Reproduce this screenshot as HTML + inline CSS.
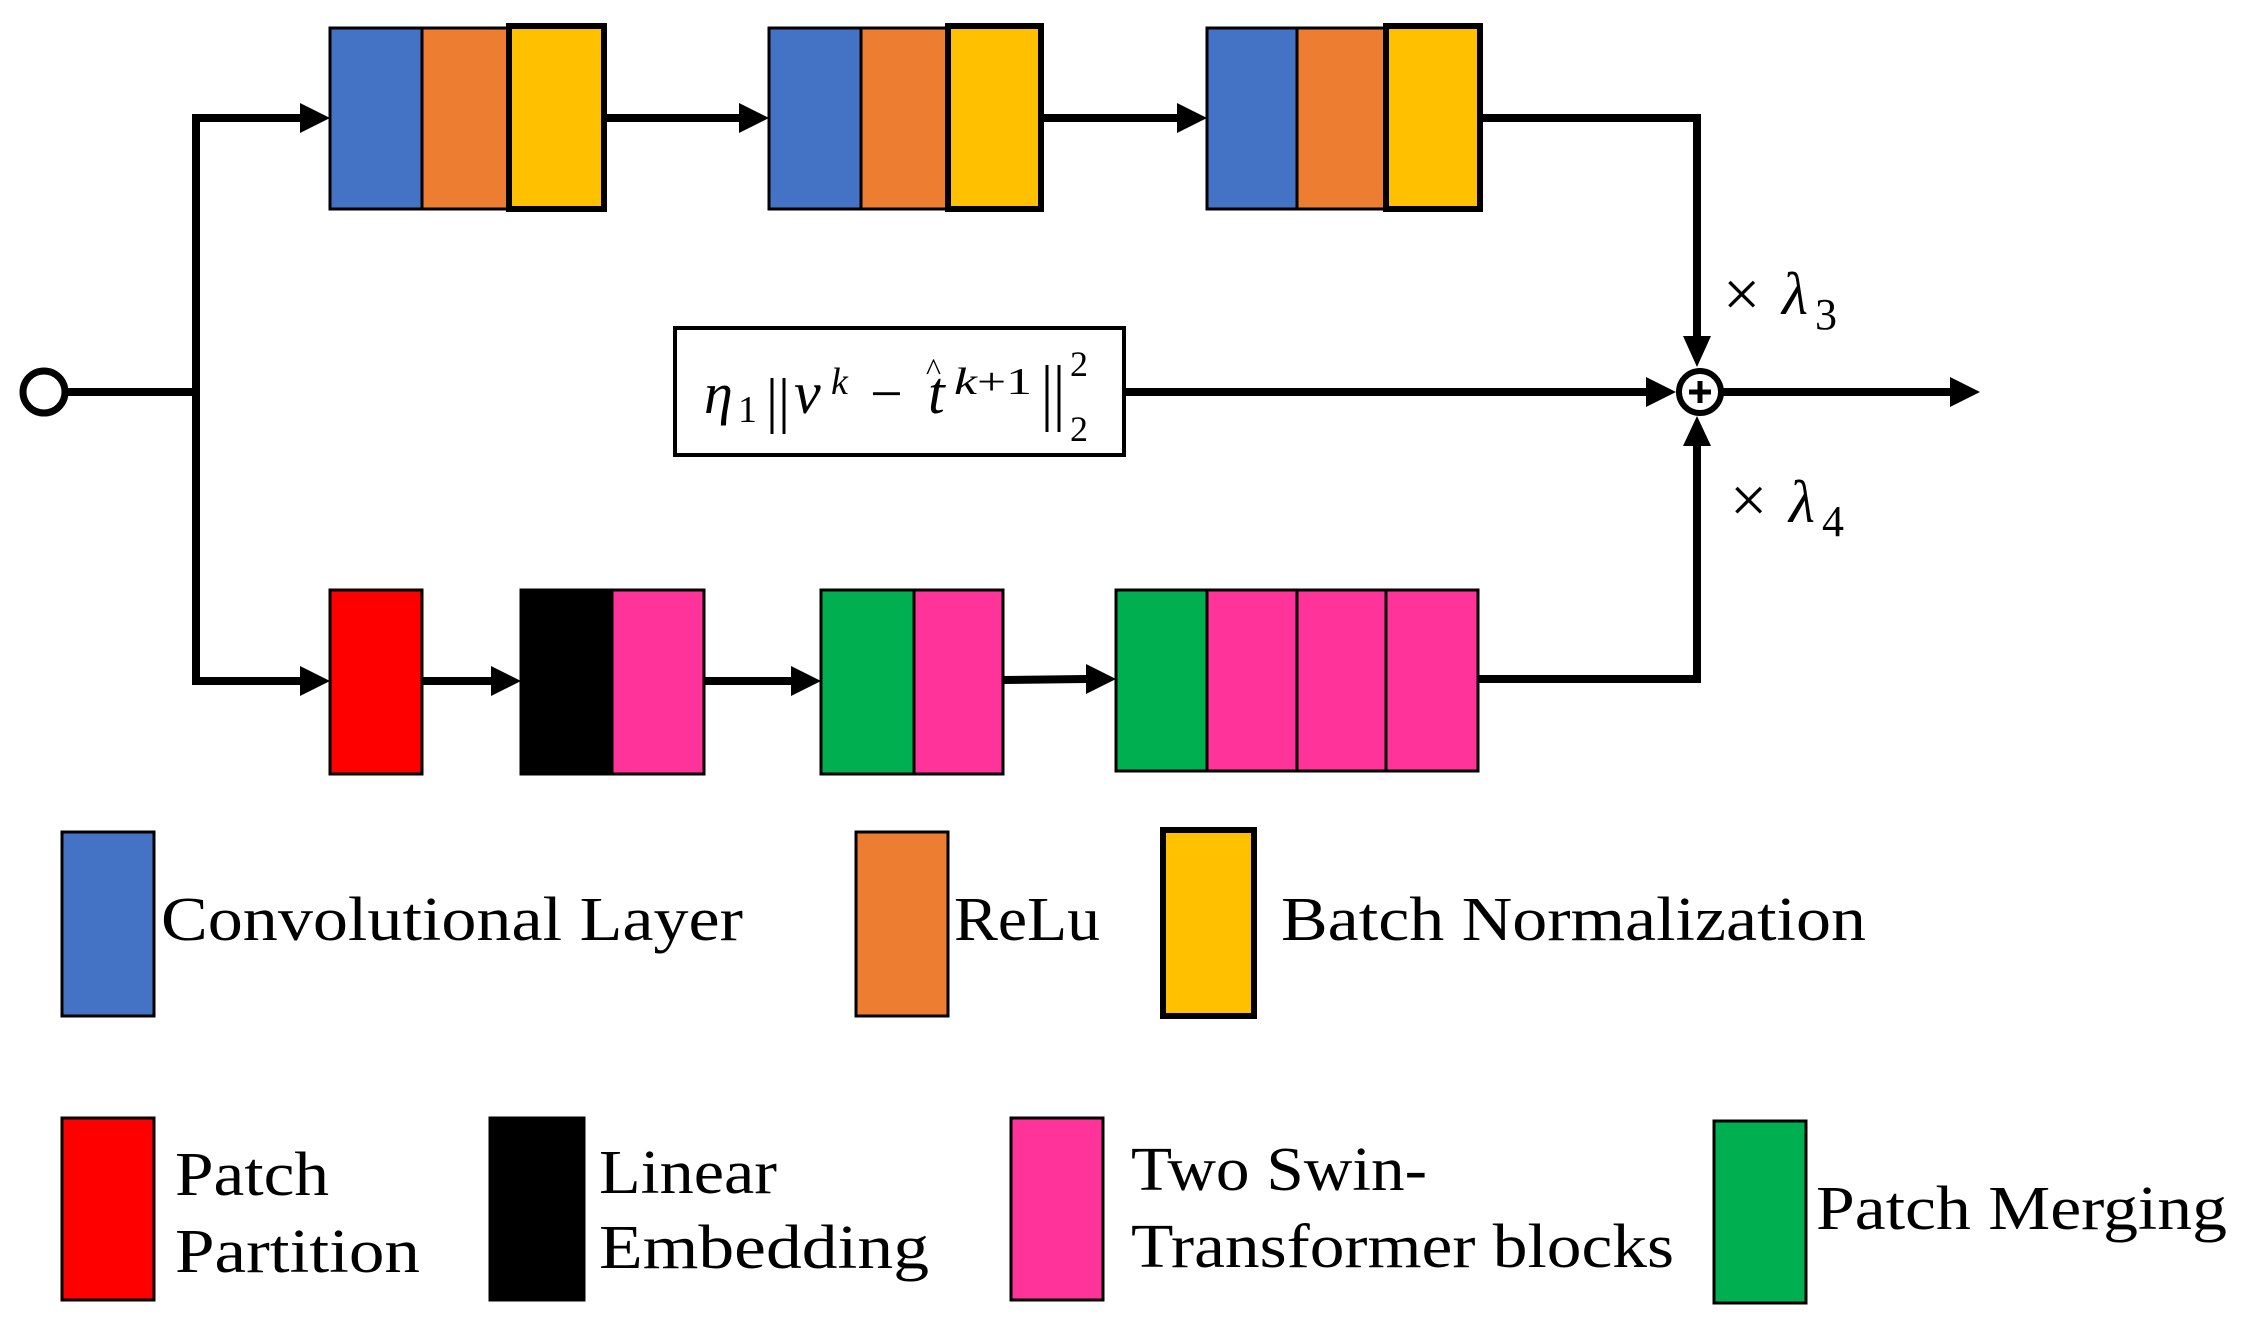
<!DOCTYPE html>
<html><head><meta charset="utf-8"><style>
html,body{margin:0;padding:0;background:#fff;}
svg{display:block;}
text{font-family:"Liberation Serif",serif;fill:#000;font-weight:normal;}
</style></head><body>
<svg width="2241" height="1336" viewBox="0 0 2241 1336" xmlns="http://www.w3.org/2000/svg">
<g stroke="#000" stroke-width="8" fill="none">
<circle cx="44" cy="392" r="21" stroke-width="7" fill="#fff"/>
<line x1="65" y1="392" x2="196" y2="392"/>
<polyline points="196,392 196,118 300,118"/>
<polyline points="196,392 196,681 300,681"/>
<line x1="604" y1="118" x2="739" y2="118"/>
<line x1="1041" y1="118" x2="1177" y2="118"/>
<polyline points="1480,118 1697,118 1697,336"/>
<line x1="422" y1="681" x2="491" y2="681"/>
<line x1="704" y1="681" x2="791" y2="681"/>
<line x1="1003" y1="680" x2="1086" y2="679"/>
<polyline points="1478,679 1697,679 1697,446"/>
<line x1="1124" y1="392" x2="1646" y2="392"/>
<line x1="1723" y1="392" x2="1950" y2="392"/>
</g>
<g fill="#000">
<polygon points="300,103 330,118 300,133"/>
<polygon points="300,666 330,681 300,696"/>
<polygon points="739,103 769,118 739,133"/>
<polygon points="1177,103 1207,118 1177,133"/>
<polygon points="491,666 521,681 491,696"/>
<polygon points="791,666 821,681 791,696"/>
<polygon points="1086,664 1116,679 1086,694"/>
<polygon points="1646,377 1676,392 1646,407"/>
<polygon points="1950,377 1980,392 1950,407"/>
<polygon points="1683,336 1711,336 1697,367"/>
<polygon points="1683,446 1711,446 1697,416"/>
</g>
<circle cx="1700" cy="392" r="21" stroke="#000" stroke-width="6" fill="#fff"/>
<line x1="1689" y1="392" x2="1711" y2="392" stroke="#000" stroke-width="5"/>
<line x1="1700" y1="381" x2="1700" y2="403" stroke="#000" stroke-width="5"/>
<g stroke="#000" stroke-width="3">
<rect x="330" y="28" width="92" height="181" fill="#4472C4"/>
<rect x="422" y="28" width="87" height="181" fill="#ED7D31"/>
<rect x="509" y="26" width="95" height="183" fill="#FFC000" stroke-width="6"/>
<rect x="769" y="28" width="92" height="181" fill="#4472C4"/>
<rect x="861" y="28" width="87" height="181" fill="#ED7D31"/>
<rect x="948" y="26" width="93" height="183" fill="#FFC000" stroke-width="6"/>
<rect x="1207" y="28" width="90" height="181" fill="#4472C4"/>
<rect x="1297" y="28" width="89" height="181" fill="#ED7D31"/>
<rect x="1386" y="26" width="94" height="183" fill="#FFC000" stroke-width="6"/>
<rect x="330" y="590" width="92" height="184" fill="#FF0000"/>
<rect x="521" y="590" width="91" height="184" fill="#000"/>
<rect x="612" y="590" width="92" height="184" fill="#FF3399"/>
<rect x="821" y="590" width="93" height="184" fill="#00B050"/>
<rect x="914" y="590" width="89" height="184" fill="#FF3399"/>
<rect x="1116" y="590" width="91" height="181" fill="#00B050"/>
<rect x="1207" y="590" width="90" height="181" fill="#FF3399"/>
<rect x="1297" y="590" width="89" height="181" fill="#FF3399"/>
<rect x="1386" y="590" width="92" height="181" fill="#FF3399"/>
<rect x="62" y="832" width="92" height="184" fill="#4472C4"/>
<rect x="856" y="832" width="92" height="184" fill="#ED7D31"/>
<rect x="1163" y="830" width="91" height="186" fill="#FFC000" stroke-width="6"/>
<rect x="62" y="1118" width="92" height="182" fill="#FF0000"/>
<rect x="490" y="1118" width="94" height="182" fill="#000"/>
<rect x="1011" y="1118" width="92" height="182" fill="#FF3399"/>
<rect x="1714" y="1121" width="92" height="182" fill="#00B050"/>
</g>
<rect x="675" y="328" width="449" height="127" fill="#fff" stroke="#000" stroke-width="4"/>
<g font-style="italic">
<text x="704" y="413" font-size="58">η</text>
<text x="738" y="422" font-size="38" font-style="normal">1</text>
<text x="794" y="413" font-size="60">v</text>
<text x="831" y="394" font-size="38">k</text>
<text x="870" y="413" font-size="58" font-style="normal">−</text>
<text x="928" y="413" font-size="60">t</text>
<text x="926" y="380" font-size="32" font-style="normal">^</text>
<text x="954" y="394" font-size="38" textLength="78" lengthAdjust="spacingAndGlyphs">k<tspan font-style="normal">+1</tspan></text>
<text x="1070" y="376" font-size="36" font-style="normal">2</text>
<text x="1070" y="441" font-size="36" font-style="normal">2</text>
</g>
<g stroke="#000" stroke-width="3">
<line x1="772" y1="378" x2="772" y2="434"/>
<line x1="784" y1="378" x2="784" y2="434"/>
<line x1="1047" y1="365" x2="1047" y2="432"/>
<line x1="1059" y1="365" x2="1059" y2="432"/>
</g>
<text x="1723" y="316" font-size="66">×</text>
<text x="1782" y="314" font-size="60" font-style="italic">λ</text>
<text x="1815" y="329" font-size="44">3</text>
<text x="1730" y="522" font-size="66">×</text>
<text x="1789" y="522" font-size="60" font-style="italic">λ</text>
<text x="1822" y="536" font-size="44">4</text>
<g font-size="62">
<text x="161" y="940" textLength="582" lengthAdjust="spacingAndGlyphs">Convolutional Layer</text>
<text x="954" y="940" textLength="146" lengthAdjust="spacingAndGlyphs">ReLu</text>
<text x="1281" y="940" textLength="585" lengthAdjust="spacingAndGlyphs">Batch Normalization</text>
<text x="175" y="1195" textLength="154" lengthAdjust="spacingAndGlyphs">Patch</text>
<text x="175" y="1272" textLength="245" lengthAdjust="spacingAndGlyphs">Partition</text>
<text x="599" y="1193" textLength="178" lengthAdjust="spacingAndGlyphs">Linear</text>
<text x="599" y="1268" textLength="330" lengthAdjust="spacingAndGlyphs">Embedding</text>
<text x="1131" y="1190" textLength="296" lengthAdjust="spacingAndGlyphs">Two Swin-</text>
<text x="1131" y="1267" textLength="543" lengthAdjust="spacingAndGlyphs">Transformer blocks</text>
<text x="1816" y="1229" textLength="411" lengthAdjust="spacingAndGlyphs">Patch Merging</text>
</g>
</svg>
</body></html>
